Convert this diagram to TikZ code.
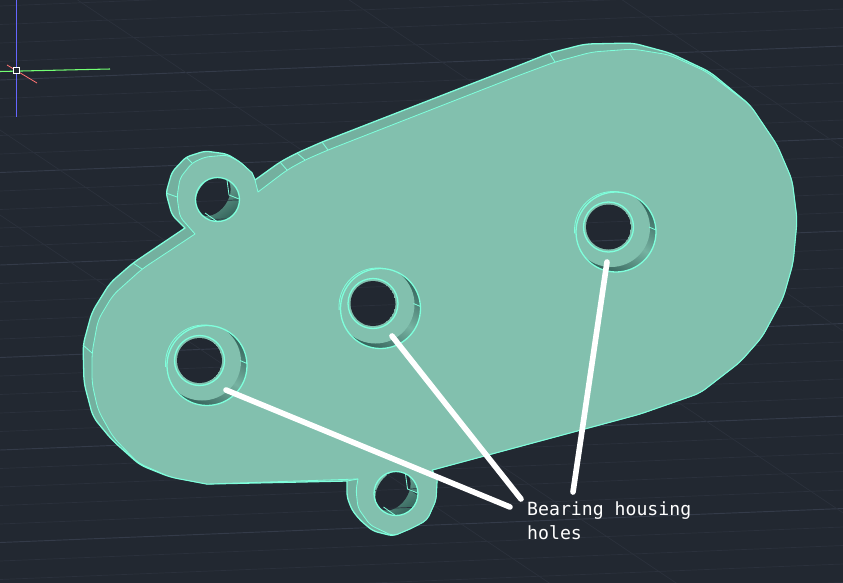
\documentclass[tikz,border=0pt]{standalone}
\usepackage{fontspec}
\setmonofont{DejaVu Sans Mono}
\usepackage{xcolor}
\usetikzlibrary{positioning}
\definecolor{bgcol}{HTML}{222831}
\definecolor{gridcol}{HTML}{2B313C}
\definecolor{majorcol}{HTML}{343B49}
\definecolor{facecol}{HTML}{82C0AE}
\definecolor{sidecol}{HTML}{74B09F}
\definecolor{wallcol}{HTML}{34625A}
\definecolor{edgecol}{HTML}{7FFFDC}
\tikzset{
  edgeline/.style={draw=edgecol, line width=1.1pt, line join=round},
  thinedge/.style={draw=edgecol, line width=0.7pt, line join=round},
  leader/.style={draw=white, line width=4.8pt, line cap=round},
  gridline/.style={draw=gridcol, line width=0.6pt},
  majorline/.style={draw=majorcol, line width=0.8pt}
}
\newcommand{\gridlines}{
  \foreach \k in {0,...,36} {
    \pgfmathsetmacro{\ya}{6+18.5*\k}
    \pgfmathsetmacro{\yb}{\ya-34}
    \pgfmathtruncatemacro{\m}{mod(\k,5)}
    \ifnum\m=4
      \draw [majorline] (0,\ya) -- (843,\yb);
    \else
      \draw [gridline] (0,\ya) -- (843,\yb);
    \fi
  }
  \foreach \c in {-417,-234,-52,130,215} {
    \pgfmathsetmacro{\ya}{\c}
    \pgfmathsetmacro{\yb}{0.67*843+\c}
    \draw [gridline] (0,\ya) -- (843,\yb);
  }
}
\begin{document}
\begin{tikzpicture}[x=0.03cm, y=-0.03cm]
  \useasboundingbox (0,0) rectangle (843,582);
  \fill [bgcol] (-3,-3) rectangle (846,585);
  \begin{scope}
    \clip (-3,-3) rectangle (846,585);
    \gridlines
  \end{scope}

  % axes icon
  \draw [draw=blue!60!white, line width=0.9pt] (16.5,0) -- (16.5,117);
  \draw [draw=green!55!white, line width=0.9pt] (0,71.5) -- (65,70) -- (110,69);
  \draw [draw=red!55!white, line width=0.7pt] (7,65) -- (37,83);
  \draw [draw=white, fill=bgcol, line width=0.9pt] (13.5,67.5) rectangle (19.5,73.5);

  % plate, side first and then the front face
  \path [edgeline, fill=sidecol] (255,180) [rounded corners=6pt] -- (280,162) -- (297,153) -- (322,142) -- (520,65) -- (550,53) -- (585,44) -- (633,43) -- (670,53) -- (710,72) -- (750,105) -- (777,145) -- (792,180) -- (797,220) -- (793,263) -- (783,298) -- (762,337) -- (740,362) -- (700,393) -- (640,414) [sharp corners] -- (432,470) -- (437,480) [rounded corners=4pt] -- (436,500) -- (427,520) -- (412,528) -- (393,536) -- (373,531) -- (360,520) -- (352,510) -- (347,497) [sharp corners] -- (347,481) -- (207,484) [rounded corners=6pt] -- (170,477) -- (140,465) -- (112,440) -- (93,417) -- (84,383) -- (83,345) -- (92,312) -- (110,283) -- (133,263) [sharp corners] -- (185,228) [rounded corners=4pt] -- (172,215) -- (166,193) -- (172,172) -- (186,157) -- (205,151) -- (227,154) -- (240,162) [sharp corners] -- (252,173) -- cycle;
  \path [thinedge, fill=facecol] (258,192) [rounded corners=6pt] -- (287,170) -- (305,160) -- (328,150) -- (520,75) -- (555,62) -- (592,52) -- (633,49) -- (670,55) -- (707,72) -- (750,105) -- (777,145) -- (792,180) -- (797,220) -- (793,263) -- (783,298) -- (762,337) -- (740,362) -- (700,393) -- (640,414) [sharp corners] -- (432,470) -- (437,480) [rounded corners=4pt] -- (436,500) -- (427,520) -- (412,528) -- (393,536) -- (370,525) -- (358,508) -- (356,490) [sharp corners] -- (358,479) -- (207,484) [rounded corners=6pt] -- (170,477) -- (138,463) -- (113,437) -- (98,410) -- (92,383) -- (92,353) -- (98,320) -- (113,295) -- (142,269) [sharp corners] -- (195,234) [rounded corners=4pt] -- (180,217) -- (177,197) -- (180,178) -- (192,163) -- (205,157) -- (227,155) -- (240,162) [sharp corners] -- (252,173) -- (255,180) -- cycle;

  % facet lines on the side
  \foreach \xa/\ya/\xb/\yb in {133/263/142/269, 83/345/92/353, 280/162/287/170, 297/153/305/160, 322/142/328/150, 550/54/555/62, 186/157/192/163, 166/193/177/197, 358/479/347/481} {
    \draw [thinedge] (\xa,\ya) -- (\xb,\yb);
  }

  % bearing housing holes
  \foreach \cx/\cy in {207/365.5, 380.5/308.5, 616/232} {
    \shade [top color=wallcol, bottom color=wallcol, middle color=facecol!85!wallcol, shading angle=-33] (\cx,\cy) circle [radius=40];
    \fill [facecol] (\cx-5,\cy-4) circle [radius=39];
    \draw [edgeline] (\cx,\cy) circle [radius=40];
    \draw [thinedge] (\cx-3,\cy-2) ++(175:38.5) arc [start angle=175, end angle=280, radius=38.5];
    \draw [thinedge] (\cx+40,\cy-2) -- (\cx+33,\cy-5);
    \draw [edgeline] (\cx-7.5,\cy-5) circle [radius=25];
    \begin{scope}
      \clip (\cx-7.5,\cy-5) circle [radius=22.5];
      \fill [bgcol] (\cx-7.5,\cy-5) circle [radius=22.5];
      \gridlines
    \end{scope}
  }

  % lugs with their through holes
  \foreach \cx/\cy/\dx/\dy in {217.5/199.5/213/196, 396/493.5/393/490.5} {
    \shade [top color=facecol, bottom color=wallcol, shading angle=35] (\cx,\cy) circle [radius=22];
    \begin{scope}
      \clip (\cx,\cy) circle [radius=22];
      \fill [bgcol] (\dx,\dy) circle [x radius=22, y radius=15, rotate=55];
      \gridlines
    \end{scope}
    \draw [thinedge] (\cx+9.5,\cy-19.5) -- (\cx+11.5,\cy-4.5) -- (\cx+21.5,\cy-0.5);
    \draw [thinedge] (\cx-12.5,\cy+13.5) -- (\cx-0.5,\cy+22);
    \draw [edgeline] (\cx,\cy) circle [radius=22];
  }

  % leaders to the label
  \coordinate (holeA) at (226,390);
  \coordinate (holeB) at (392,336);
  \coordinate (holeC) at (607,262);
  \coordinate (endA) at (510,507);
  \coordinate (endB) at (521,499);
  \coordinate (endC) at (573,492);
  \draw [leader] (holeA) -- (endA);
  \draw [leader] (holeB) -- (endB);
  \draw [leader] (holeC) -- (endC);

  \node (label) at (527,539.5) [anchor=base west, inner sep=0pt, text=white, align=left,
    font=\ttfamily\fontsize{15.5}{20.4}\selectfont] {Bearing housing\\holes};
\end{tikzpicture}
\end{document}
